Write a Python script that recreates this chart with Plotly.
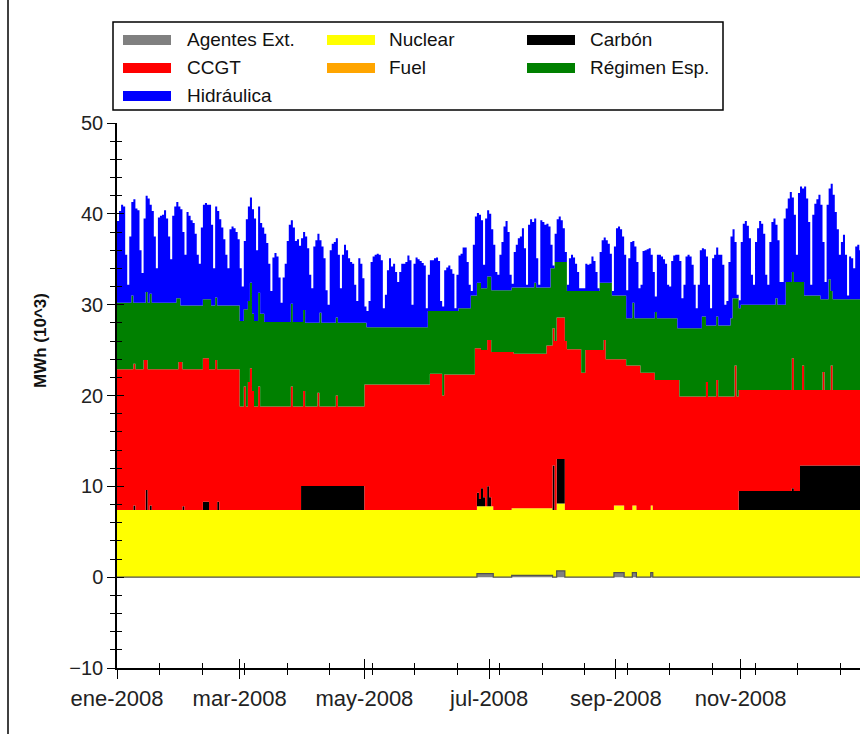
import pandas as pd
import plotly.graph_objects as go

# ---------------------------------------------------------------- data
YEAR_START = "2008-01-01"
N_DAYS = 366

month_ticks = ["2008-01-01", "2008-03-01", "2008-05-01",
               "2008-07-01", "2008-09-01", "2008-11-01"]
month_labels = ["ene-2008", "mar-2008", "may-2008",
                "jul-2008", "sep-2008", "nov-2008"]

series_names = ["Agentes Ext.", "Nuclear", "Carbón", "CCGT",
                "Fuel", "Régimen Esp.", "Hidráulica"]
series_colors = ["#808080", "#FFFF00", "#000000", "#FF0000",
                 "#FFA500", "#008000", "#0000FF"]

# Daily generation, MWh (10^3).  Run lists hold (first day index, value);
# each value holds until the next entry starts.
agentes_runs = [(0, 0.0), (176, 0.4), (184, 0.0), (193, 0.2), (213, 0.0),
                (215, 0.7), (219, 0.0), (243, 0.5), (248, 0.0), (252, 0.5),
                (254, 0.0), (261, 0.5), (262, 0.0)]

nuclear_runs = [(0, 7.4)]

carbon_runs = [(0, 0.0), (8, 0.5), (9, 0.0), (14, 2.2), (15, 0.0), (16, 0.5),
               (17, 0.0), (32, 0.4), (33, 0.0), (42, 0.9), (45, 0.0), (49, 0.9),
               (50, 0.0), (90, 2.65), (121, 0.0), (176, 1.5), (177, 0.8),
               (178, 2.0), (179, 1.0), (180, 0.0), (181, 2.2), (182, 1.0),
               (183, 0.0), (213, 4.9), (214, 0.0), (215, 4.9), (219, 0.0),
               (304, 2.1), (330, 2.4), (331, 2.1), (334, 4.9)]

ccgt_runs = [(0, 15.5), (8, 15.6), (9, 15.5), (13, 16.5), (14, 14.3), (15, 15.5),
             (16, 15.0), (17, 15.5), (30, 16.3), (32, 15.1), (33, 15.5), (42, 15.8),
             (45, 15.5), (48, 16.5), (49, 14.6), (50, 15.5), (60, 11.4), (62, 13.6),
             (63, 11.4), (64, 14.1), (65, 15.6), (66, 13.1), (67, 11.4), (69, 13.6),
             (70, 11.4), (85, 13.6), (86, 11.4), (90, 8.75), (91, 10.45), (92, 8.75),
             (98, 10.25), (99, 8.75), (107, 9.95), (108, 8.75), (121, 13.8),
             (153, 15.0), (159, 12.6), (160, 14.9), (175, 17.8), (176, 15.9),
             (177, 16.6), (178, 15.2), (179, 16.2), (180, 17.2), (181, 16.1),
             (182, 17.3), (183, 17.0), (184, 17.4), (193, 17.2), (194, 17.0),
             (210, 17.9), (213, 15.1), (214, 18.6), (215, 15.6), (219, 18.6),
             (220, 17.7), (227, 15.1), (229, 17.6), (238, 18.7), (239, 16.6),
             (243, 16.1), (248, 16.6), (249, 15.9), (252, 15.4), (254, 15.9),
             (256, 15.1), (261, 14.6), (262, 15.1), (263, 14.3), (275, 12.5),
             (288, 14.1), (289, 12.5), (293, 14.3), (294, 12.5), (302, 15.9),
             (303, 12.5), (304, 11.1), (330, 14.3), (331, 11.1), (334, 8.3),
             (335, 11.0), (336, 8.3), (345, 10.3), (346, 8.3), (349, 11.0),
             (350, 8.3)]

fuel_runs = [(0, 0.0)]

regimen_runs = [(0, 7.3), (7, 8.1), (8, 6.7), (9, 7.3), (13, 6.3), (14, 7.5),
                (15, 7.3), (16, 8.3), (17, 7.3), (29, 7.8), (30, 7.0), (31, 6.2),
                (32, 7.0), (42, 6.5), (45, 7.7), (46, 7.0), (48, 6.9), (49, 7.0),
                (60, 9.4), (62, 8.5), (63, 10.7), (64, 8.9), (65, 9.4), (66, 8.5),
                (67, 9.4), (69, 10.3), (70, 10.2), (72, 9.3), (85, 9.1), (86, 9.3),
                (91, 8.9), (92, 9.2), (98, 7.7), (99, 10.3), (100, 9.2), (107, 8.6),
                (108, 9.2), (121, 6.8), (122, 6.3), (152, 8.1), (153, 6.9),
                (159, 9.3), (160, 7.0), (167, 7.3), (173, 8.7), (175, 5.8),
                (176, 7.2), (178, 6.8), (181, 7.0), (183, 6.8), (193, 7.1),
                (194, 7.3), (204, 7.8), (205, 7.3), (210, 6.4), (212, 8.5),
                (213, 6.6), (214, 8.7), (215, 6.1), (219, 8.7), (220, 6.4),
                (227, 9.0), (229, 6.5), (236, 7.4), (238, 6.3), (239, 8.4),
                (242, 7.0), (249, 5.2), (252, 6.9), (253, 5.2), (256, 6.0),
                (263, 7.5), (264, 6.8), (274, 5.7), (275, 7.5), (286, 8.8),
                (288, 6.2), (289, 7.8), (293, 7.0), (294, 7.8), (300, 8.6),
                (301, 10.8), (302, 7.4), (303, 10.8), (304, 9.0), (305, 9.4),
                (322, 10.1), (323, 9.4), (327, 11.9), (330, 9.5), (331, 11.9),
                (335, 9.2), (336, 10.4), (344, 10.0), (345, 8.0), (346, 10.0),
                (348, 12.2), (349, 8.2), (350, 10.0)]

hidraulica_daily = [
    9.0, 10.1, 10.8, 10.6, 5.3, 2.0, 7.3, 10.3, 11.4, 10.4,
    10.2, 5.8, 3.3, 9.3, 10.6, 11.5, 9.8, 10.1, 7.3, 3.8,
    9.4, 9.6, 9.7, 10.2, 9.3, 7.3, 4.8, 9.6, 10.6, 10.6,
    10.1, 10.6, 8.1, 5.6, 10.3, 9.9, 9.4, 9.1, 7.9, 5.6,
    4.6, 8.6, 10.4, 10.6, 10.4, 10.4, 8.9, 4.1, 10.0, 10.4,
    9.5, 8.6, 7.3, 5.6, 4.1, 8.4, 8.7, 8.5, 8.1, 7.3,
    5.8, 3.8, 7.5, 9.9, 10.4, 9.4, 11.5, 11.3, 7.8, 9.5,
    10.0, 9.5, 9.7, 8.7, 6.4, 3.4, 7.1, 7.6, 7.2, 4.9,
    2.1, 4.9, 6.4, 8.9, 10.7, 9.2, 10.4, 8.9, 9.1, 8.4,
    9.2, 8.6, 9.5, 8.2, 5.3, 3.8, 8.4, 9.1, 9.8, 8.0,
    8.4, 7.1, 3.6, 2.0, 8.0, 8.7, 8.9, 8.7, 7.5, 3.8,
    7.5, 8.6, 8.0, 7.1, 6.7, 6.5, 4.2, 2.4, 7.1, 6.5,
    4.9, 1.8, 1.8, 2.9, 7.2, 7.8, 8.0, 8.1, 8.0, 7.4,
    2.1, 3.6, 6.3, 7.6, 6.7, 7.0, 6.1, 5.0, 6.1, 7.0,
    7.0, 7.2, 7.9, 7.4, 2.5, 7.0, 7.7, 7.5, 7.3, 7.1,
    6.8, 2.1, 4.0, 5.6, 5.6, 5.8, 5.9, 5.5, 1.1, 0.5,
    4.5, 4.8, 5.0, 4.6, 4.1, 0.3, 4.0, 5.8, 6.0, 6.7,
    6.7, 5.1, 2.6, 0.5, 5.6, 8.7, 7.7, 7.5, 7.5, 2.6,
    7.7, 7.3, 6.9, 6.7, 5.0, 2.0, 1.7, 3.9, 5.3, 7.0,
    7.6, 6.4, 1.7, 0.4, 3.9, 4.7, 5.4, 5.6, 6.5, 4.3,
    0.3, 6.9, 7.5, 7.2, 7.1, 3.2, 0.3, 7.4, 7.2, 6.9,
    7.0, 6.7, 2.6, 0.3, 3.1, 4.7, 5.0, 4.6, 3.7, 1.1,
    0.7, 3.6, 4.0, 3.7, 3.0, 2.1, 0.3, 0.3, 0.3, 3.0,
    2.9, 3.0, 3.8, 3.3, 2.1, 0.3, 3.4, 4.7, 5.0, 4.7,
    4.3, 3.2, 0.5, 5.4, 7.4, 7.6, 7.3, 6.5, 4.5, 3.1,
    6.6, 8.4, 6.8, 7.9, 6.2, 3.3, 3.7, 7.4, 7.5, 7.6,
    7.7, 7.0, 5.1, 1.7, 7.0, 7.0, 6.8, 6.5, 6.0, 3.7,
    3.5, 6.3, 6.9, 7.0, 8.1, 7.4, 3.3, 4.8, 7.9, 8.1,
    7.9, 7.0, 4.8, 2.2, 4.8, 8.6, 7.5, 7.4, 7.6, 4.5,
    1.9, 7.4, 7.8, 7.6, 7.8, 7.8, 6.7, 2.3, 2.7, 7.0,
    9.0, 7.6, 6.2, 0.4, 0.9, 6.9, 8.9, 9.2, 8.7, 7.3,
    3.3, 2.2, 6.9, 8.4, 9.2, 8.9, 7.8, 3.3, 2.2, 6.9,
    9.1, 9.5, 8.1, 7.1, 2.5, 2.5, 9.5, 8.1, 9.2, 9.9,
    8.2, 7.4, 3.0, 9.8, 10.5, 10.3, 12.0, 10.7, 8.1, 1.2,
    8.9, 10.1, 10.6, 11.1, 10.4, 6.3, 1.9, 10.4, 10.0, 11.8,
    11.5, 9.6, 7.7, 4.9, 6.3, 7.1, 4.9, 0.4, 4.7, 4.5,
    3.4, 5.8, 6.0, 5.4, 4.9, 4.4,
]


def expand(runs, n=N_DAYS):
    """Turn a (start, value) run list into one value per day."""
    out = []
    for i, (start, val) in enumerate(runs):
        end = runs[i + 1][0] if i + 1 < len(runs) else n
        out.extend([val] * (end - start))
    return out


series_values = [expand(agentes_runs), expand(nuclear_runs), expand(carbon_runs),
                 expand(ccgt_runs), expand(fuel_runs), expand(regimen_runs),
                 hidraulica_daily]

days = pd.date_range(YEAR_START, periods=N_DAYS, freq="D")

# ---------------------------------------------------------------- geometry
W, H = 860, 734
PLOT_L, PLOT_R, PLOT_T, PLOT_B = 117, 860, 123, 668
X_END = "2008-12-29 08:00"


def px(x):
    return (x - PLOT_L) / (PLOT_R - PLOT_L)


def py(y):
    return (PLOT_B - y) / (PLOT_B - PLOT_T)


FONT = "Liberation Sans, Arial, sans-serif"
DAY_MS = 86400000

# ---------------------------------------------------------------- figure
fig = go.Figure()
for i, (name, color, vals) in enumerate(zip(series_names, series_colors, series_values)):
    # only the bottom series keeps a visible edge: it draws the dark zero line
    line_color = "#505050" if i == 0 else color
    line_width = 1.2 if i == 0 else 0
    fig.add_trace(go.Scatter(
        x=days, y=vals, name=name, mode="lines", stackgroup="mix",
        line=dict(color=line_color, width=line_width, shape="hv"),
        fillcolor=color, showlegend=False, hoverinfo="skip",
    ))

# empty trace so the inner-tick overlay axes are drawn
fig.add_trace(go.Scatter(x=[], y=[], xaxis="x2", yaxis="y2",
                         showlegend=False, hoverinfo="skip"))

x_common = dict(type="date", range=[YEAR_START, X_END],
                tickmode="array", tickvals=month_ticks,
                showgrid=False, zeroline=False)
y_common = dict(range=[-10, 50], tickmode="linear", tick0=0, dtick=10,
                showgrid=False, zeroline=False)

fig.update_layout(
    width=W, height=H,
    margin=dict(l=PLOT_L, r=W - PLOT_R, t=PLOT_T, b=H - PLOT_B),
    paper_bgcolor="white", plot_bgcolor="white",
    showlegend=False,
    xaxis=dict(**x_common, ticktext=month_labels,
               ticks="outside", ticklen=9, tickwidth=1.3, tickcolor="black",
               showline=True, linecolor="black", linewidth=1.5,
               tickfont=dict(family=FONT, size=22, color="#222"),
               ticklabelstandoff=1,
               minor=dict(ticks="outside", ticklen=5, tickwidth=1, tickcolor="black",
                          tick0=YEAR_START, dtick=20.8 * DAY_MS)),
    yaxis=dict(**y_common,
               ticks="outside", ticklen=8, tickwidth=1.3, tickcolor="black",
               showline=True, linecolor="black", linewidth=1.5,
               tickfont=dict(family=FONT, size=20, color="#222"),
               minor=dict(ticks="outside", ticklen=5, tickwidth=1, tickcolor="black",
                          dtick=2)),
    xaxis2=dict(**x_common, overlaying="x", anchor="y", side="bottom",
                showticklabels=False, showline=False,
                ticks="inside", ticklen=9, tickwidth=1.3, tickcolor="black",
                minor=dict(ticks="inside", ticklen=5, tickwidth=1, tickcolor="black",
                           tick0=YEAR_START, dtick=20.8 * DAY_MS)),
    yaxis2=dict(**y_common, overlaying="y", anchor="x", side="left",
                showticklabels=False, showline=False,
                ticks="inside", ticklen=7, tickwidth=1.3, tickcolor="black",
                minor=dict(ticks="inside", ticklen=5, tickwidth=1, tickcolor="black",
                           dtick=2)),
)

shapes = []
annotations = []

# outer frame line on the left side of the picture
shapes.append(dict(type="line", xref="paper", yref="paper",
                   x0=px(8), x1=px(8), y0=py(0), y1=py(H),
                   line=dict(color="black", width=1.5)))

# legend box with three columns of swatches
shapes.append(dict(type="rect", xref="paper", yref="paper",
                   x0=px(113), x1=px(723), y0=py(110), y1=py(22),
                   line=dict(color="black", width=1.5), fillcolor="white"))
col_swatch_x = [123, 327, 527]
col_text_x = [185, 387, 588]
row_y = [40, 68, 96]
for k, (name, color) in enumerate(zip(series_names, series_colors)):
    r, c = divmod(k, 3)
    sx = col_swatch_x[c]
    shapes.append(dict(type="rect", xref="paper", yref="paper",
                       x0=px(sx), x1=px(sx + 48), y0=py(row_y[r] + 5), y1=py(row_y[r] - 5),
                       line=dict(color=color, width=0), fillcolor=color))
    annotations.append(dict(xref="paper", yref="paper", x=px(col_text_x[c]), y=py(row_y[r]),
                            text=name, showarrow=False, xanchor="left", yanchor="middle",
                            font=dict(family=FONT, size=19, color="#111")))

# y axis title
annotations.append(dict(xref="paper", yref="paper", x=px(40), y=py(341),
                        text="<b>MWh (10^3)</b>", textangle=-90, showarrow=False,
                        xanchor="center", yanchor="middle",
                        font=dict(family=FONT, size=17, color="#111")))

fig.update_layout(shapes=shapes, annotations=annotations)

fig.write_html("out.html")
